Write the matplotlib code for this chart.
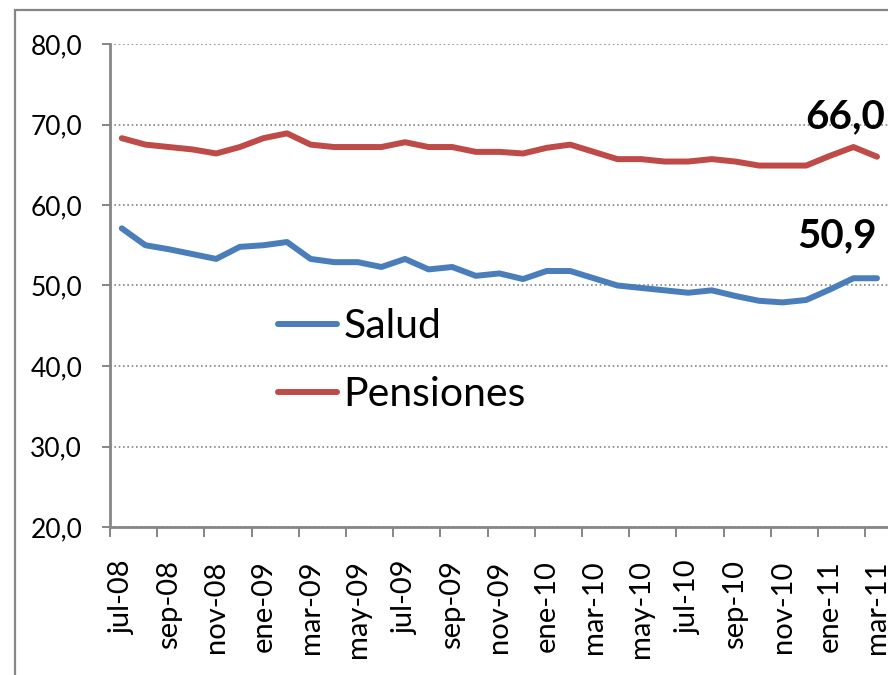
import matplotlib.pyplot as plt
import numpy as np
from matplotlib.patches import Rectangle

plt.rcParams['font.family'] = ['Lato', 'DejaVu Sans']

meses = ["jul-08", "ago-08", "sep-08", "oct-08", "nov-08", "dic-08",
         "ene-09", "feb-09", "mar-09", "abr-09", "may-09", "jun-09",
         "jul-09", "ago-09", "sep-09", "oct-09", "nov-09", "dic-09",
         "ene-10", "feb-10", "mar-10", "abr-10", "may-10", "jun-10",
         "jul-10", "ago-10", "sep-10", "oct-10", "nov-10", "dic-10",
         "ene-11", "feb-11", "mar-11"]

salud = [57.1, 55.0, 54.5, 53.9, 53.3, 54.8, 55.0, 55.4, 53.3, 52.9, 52.9,
         52.3, 53.3, 52.0, 52.3, 51.2, 51.5, 50.8, 51.8, 51.8, 50.9, 50.0,
         49.7, 49.4, 49.1, 49.4, 48.7, 48.1, 47.9, 48.2, 49.5, 50.9, 50.9]

pensiones = [68.3, 67.5, 67.2, 66.9, 66.4, 67.2, 68.3, 68.9, 67.5, 67.2, 67.2,
             67.2, 67.8, 67.2, 67.2, 66.6, 66.6, 66.4, 67.1, 67.5, 66.6, 65.7,
             65.7, 65.4, 65.4, 65.7, 65.4, 64.9, 64.9, 64.9, 66.1, 67.2, 66.0]

etiquetas = {"Salud": "50,9", "Pensiones": "66,0"}

gris = "#868686"
azul = "#4a7ebb"
rojo = "#be4b48"

fig = plt.figure(figsize=(8.88, 6.75), dpi=100)
# marco exterior del grafico (cortado a la derecha y abajo)
fig.patches.append(Rectangle((15 / 888, -0.1), 1.2, 1 - 10 / 675 + 0.1,
                             transform=fig.transFigure, fill=False,
                             edgecolor=gris, linewidth=1.6, zorder=0))

ax = fig.add_axes([110 / 888, 148 / 675, 778.8 / 888, 483 / 675])

x = np.arange(len(meses)) + 0.5
ax.plot(x, salud, color=azul, lw=4.3, solid_capstyle='round',
        solid_joinstyle='round', label="Salud", clip_on=False)
ax.plot(x, pensiones, color=rojo, lw=4.3, solid_capstyle='round',
        solid_joinstyle='round', label="Pensiones", clip_on=False)

ax.set_xlim(0, len(meses))
ax.set_ylim(20, 80)
ax.set_yticks(np.arange(20, 81, 10))
ax.set_yticklabels([f"{v:.1f}".replace(".", ",") for v in np.arange(20, 81, 10)])
ax.yaxis.grid(True, linestyle=(0, (1, 1.6)), color=gris, linewidth=1.2)
ax.set_axisbelow(True)

ax.set_xticks(np.arange(0, len(meses) + 1, 2))
ax.set_xticklabels([])
ax.set_xticks(x[::2], minor=True)
ax.set_xticklabels(meses[::2], minor=True, rotation=90, fontsize=21)
ax.tick_params(axis='x', which='major', length=7, width=1.4, color=gris, direction='out')
ax.tick_params(axis='x', which='minor', length=0, pad=24)
ax.tick_params(axis='y', length=6, width=1.4, color=gris, pad=14, labelsize=19)

for s in ["top", "right"]:
    ax.spines[s].set_visible(False)
for s in ["left", "bottom"]:
    ax.spines[s].set_color(gris)
    ax.spines[s].set_linewidth(2)

ax.annotate(etiquetas["Pensiones"], xy=(x[-1], pensiones[-1]), xytext=(8, 40),
            textcoords='offset pixels', ha='right', va='center',
            fontsize=29, fontweight='bold', annotation_clip=False)
ax.annotate(etiquetas["Salud"], xy=(x[-1], salud[-1]), xytext=(0, 43),
            textcoords='offset pixels', ha='right', va='center',
            fontsize=29, fontweight='bold', annotation_clip=False)

leg = fig.legend(loc='center left', bbox_to_anchor=(278 / 888, 1 - 360.5 / 675),
                 frameon=False, fontsize=29.5, handlelength=1.45, handletextpad=0.15,
                 labelspacing=0.75, borderpad=0, borderaxespad=0)

fig.savefig("out.png", dpi=100)
